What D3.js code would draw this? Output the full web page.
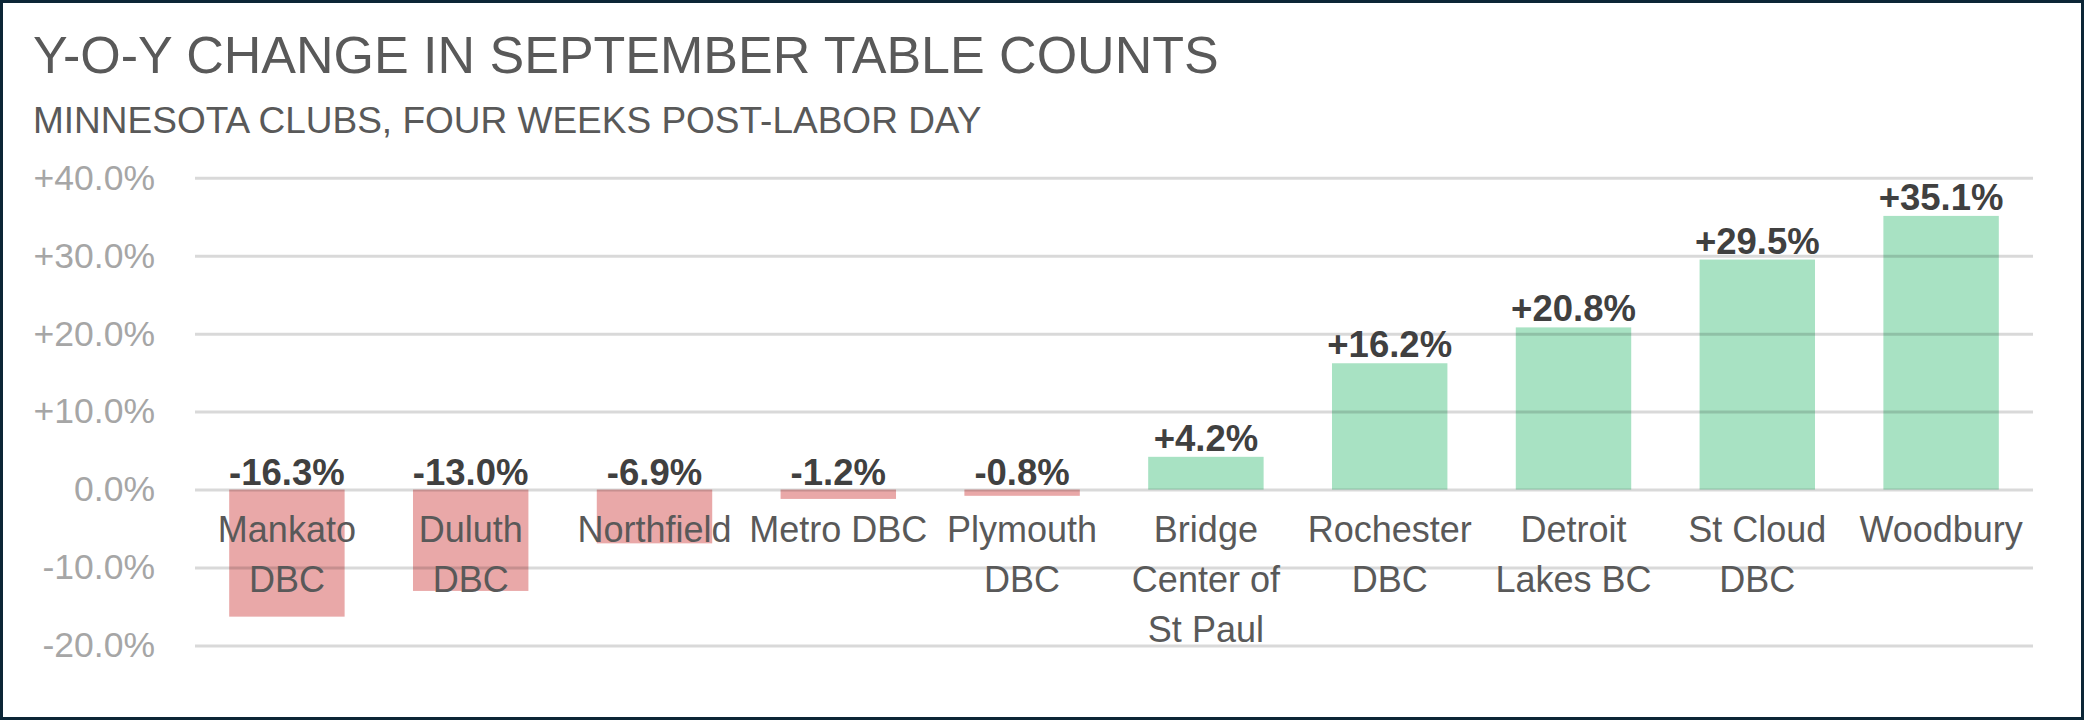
<!DOCTYPE html>
<html>
<head>
<meta charset="utf-8">
<script src="https://cdn.jsdelivr.net/npm/d3@7"></script>
<style>
	body { margin: 0; background: #ffffff; }
	text { font-family: "Liberation Sans", Arial, sans-serif; }
</style>
</head>
<body>
<div id="wrapper"></div>
<script>
const clubs = [
	["Mankato", "DBC"],
	["Duluth", "DBC"],
	["Northfield"],
	["Metro DBC"],
	["Plymouth", "DBC"],
	["Bridge", "Center of", "St Paul"],
	["Rochester", "DBC"],
	["Detroit", "Lakes BC"],
	["St Cloud", "DBC"],
	["Woodbury"]
];
const changes = [-16.3, -13.0, -6.9, -1.2, -0.8, 4.2, 16.2, 20.8, 29.5, 35.1];
const yTicks = [-20, -10, 0, 10, 20, 30, 40];

const titleText = "Y-O-Y CHANGE IN SEPTEMBER TABLE COUNTS";
const subtitleText = "MINNESOTA CLUBS, FOUR WEEKS POST-LABOR DAY";

function drawBarChart() {
	const data = changes.map((v, i) => ({ lines: clubs[i], value: v, key: i }));

	const xAccessor = d => d.key;
	const yAccessor = d => d.value;

	let dimensions = {
		width: 2084,
		height: 720,
		margin: {
			top: 177.7,
			right: 51,
			bottom: 74.5,
			left: 195
		}
	};
	dimensions.boundedWidth = dimensions.width - dimensions.margin.left - dimensions.margin.right;
	dimensions.boundedHeight = dimensions.height - dimensions.margin.top - dimensions.margin.bottom;

	const svg = d3.select("#wrapper").append("svg")
		.attr("width", dimensions.width)
		.attr("height", dimensions.height);

	svg.append("rect")
		.attr("x", 1.5)
		.attr("y", 1.5)
		.attr("width", dimensions.width - 3)
		.attr("height", dimensions.height - 3)
		.attr("fill", "#ffffff")
		.attr("stroke", "#0c2636")
		.attr("stroke-width", 3);

	// titles
	svg.append("text")
		.attr("x", 33)
		.attr("y", 73)
		.attr("fill", "#595959")
		.style("font-size", "52px")
		.text(titleText);

	svg.append("text")
		.attr("x", 33)
		.attr("y", 133)
		.attr("fill", "#595959")
		.style("font-size", "37px")
		.text(subtitleText);

	const bounds = svg.append("g")
		.attr("transform", `translate(${dimensions.margin.left}, ${dimensions.margin.top})`);

	const xScale = d3.scaleBand()
		.domain(data.map(xAccessor))
		.range([0, dimensions.boundedWidth])
		.paddingInner(0.372)
		.paddingOuter(0.186);

	const yScale = d3.scaleLinear()
		.domain([d3.min(yTicks), d3.max(yTicks)])
		.range([dimensions.boundedHeight, 0]);

	// bars
	bounds.selectAll(".bar")
		.data(data)
		.join("rect")
		.attr("class", "bar")
		.attr("x", d => xScale(xAccessor(d)))
		.attr("width", xScale.bandwidth())
		.attr("y", d => yScale(Math.max(0, yAccessor(d))))
		.attr("height", d => Math.abs(yScale(yAccessor(d)) - yScale(0)))
		.attr("fill", d => yAccessor(d) < 0 ? "#e9a8a8" : "#a8e2c3");

	// gridlines on top so they show through the bars
	const yAxisGenerator = d3.axisLeft(yScale)
		.tickValues(yTicks)
		.tickSize(-dimensions.boundedWidth)
		.tickPadding(40)
		.tickFormat(d => (d > 0 ? "+" : "") + d.toFixed(1) + "%");

	const yAxis = bounds.append("g").call(yAxisGenerator);
	yAxis.select(".domain").remove();
	yAxis.selectAll(".tick line")
		.attr("stroke", "#000000")
		.attr("stroke-opacity", 0.15)
		.attr("stroke-width", 3);
	yAxis.selectAll(".tick text")
		.attr("fill", "#a6a6a6")
		.style("font-size", "35.5px")
		.style("font-family", "'Liberation Sans', Arial, sans-serif");

	// value labels
	bounds.selectAll(".value")
		.data(data)
		.join("text")
		.attr("class", "value")
		.attr("x", d => xScale(xAccessor(d)) + xScale.bandwidth() / 2)
		.attr("y", d => yAccessor(d) >= 0 ? yScale(yAccessor(d)) - 6 : yScale(0) - 5)
		.attr("text-anchor", "middle")
		.attr("fill", "#404040")
		.style("font-size", "36.5px")
		.style("font-weight", "bold")
		.text(d => (yAccessor(d) > 0 ? "+" : "") + yAccessor(d).toFixed(1) + "%");

	// category labels
	const catLabels = bounds.selectAll(".cat")
		.data(data)
		.join("text")
		.attr("class", "cat")
		.attr("text-anchor", "middle")
		.attr("fill", "#595959")
		.style("font-size", "36px");

	catLabels.selectAll("tspan")
		.data(d => d.lines.map(l => ({ line: l, key: d.key })))
		.join("tspan")
		.attr("x", d => xScale(d.key) + xScale.bandwidth() / 2)
		.attr("y", (d, i) => yScale(0) + 52 + i * 50)
		.text(d => d.line);
}

drawBarChart();
</script>
</body>
</html>
